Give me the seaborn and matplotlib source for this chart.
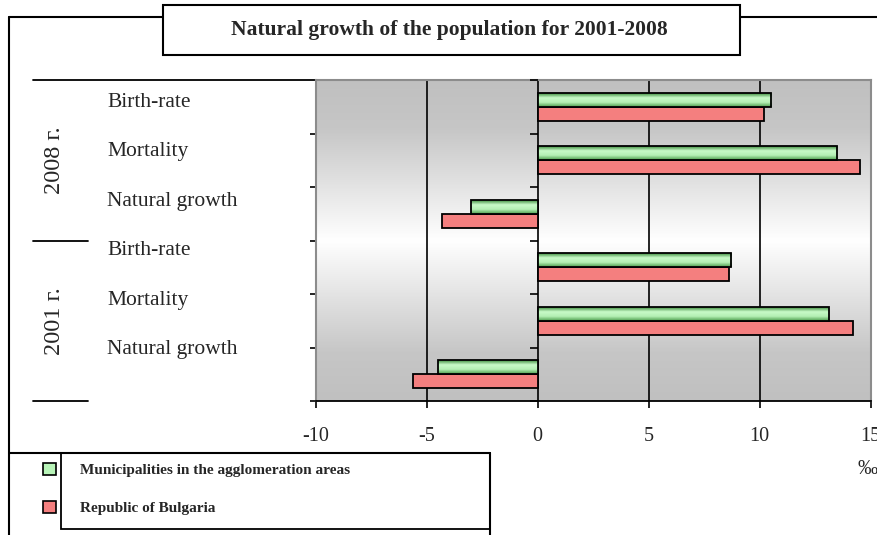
import matplotlib.pyplot as plt
import matplotlib.transforms as mtransforms
from matplotlib.colors import LinearSegmentedColormap, to_rgb
from matplotlib.patches import Rectangle
from matplotlib.lines import Line2D
import numpy as np
import pandas as pd
import seaborn as sns

# Data (per mille)
years = ['2008 г.', '2001 г.']
indicators = ['Birth-rate', 'Mortality', 'Natural growth']
series = ['Municipalities in the agglomeration areas', 'Republic of Bulgaria']
municipalities = [10.5, 13.5, -3.0, 8.7, 13.1, -4.5]
bulgaria = [10.2, 14.5, -4.3, 8.6, 14.2, -5.6]
x_ticks = [-10, -5, 0, 5, 10, 15]
title = 'Natural growth of the population for 2001-2008'
unit = '‰'

W, H = 877, 535


def fx(x):
    return x / W


def fy(y):
    return 1 - y / H


sns.set_style('white')
plt.rcParams['font.family'] = ['Liberation Serif', 'DejaVu Serif']

slots = [f'{y} {i}' for y in years for i in indicators]
df = pd.DataFrame({
    'slot': slots * 2,
    'value': municipalities + bulgaria,
    'series': [series[0]] * len(slots) + [series[1]] * len(slots),
})

fig = plt.figure(figsize=(8.77, 5.35), dpi=100)
ax_left, ax_right, ax_top, ax_bottom = 315.7, 870.7, 80, 401
ax = fig.add_axes([fx(ax_left), fy(ax_bottom), fx(ax_right) - fx(ax_left), fy(ax_top) - fy(ax_bottom)])


def ax_x(px):
    return (px - ax_left) / (ax_right - ax_left)


green = '#b8f4b8'
red = '#f47f7f'
sns.barplot(data=df, y='slot', x='value', hue='series', order=slots, hue_order=series,
            palette=[green, red], orient='h', width=0.52, edgecolor='black', linewidth=1.3,
            saturation=1, legend=False, ax=ax, zorder=3)

# grey-white-grey background of the plot area
bg = LinearSegmentedColormap.from_list('bg', [(0, '#c0c0c0'), (0.15, '#c6c6c6'), (0.5, '#ffffff'),
                                              (0.85, '#c6c6c6'), (1, '#c0c0c0')])
ax.imshow(np.linspace(0, 1, 256).reshape(-1, 1), cmap=bg, aspect='auto',
          extent=(0, 1, 0, 1), transform=ax.transAxes, zorder=0)

# shaded green bars
bar_cmap = LinearSegmentedColormap.from_list('bar', ['#3c8c3c', '#c8fac8', '#b4f0b4', '#4c9c4c'])
for p in list(ax.patches):
    if np.allclose(p.get_facecolor()[:3], to_rgb(green)):
        bb = p.get_bbox()
        im = ax.imshow(np.linspace(0, 1, 64).reshape(-1, 1), cmap=bar_cmap, aspect='auto',
                       extent=(min(bb.x0, bb.x1), max(bb.x0, bb.x1), max(bb.y0, bb.y1), min(bb.y0, bb.y1)),
                       zorder=3.5)
        im.set_clip_path(p)
        p.set_facecolor('none')
        p.set_zorder(4)

ax.set_xlim(x_ticks[0], x_ticks[-1])
ax.set_ylim(len(slots) - 0.5, -0.5)
ax.set_xlabel('')
ax.set_ylabel('')

for t in x_ticks[1:-1]:
    ax.axvline(t, color='black', lw=1.2, zorder=1)

for s in ['top', 'right', 'left']:
    ax.spines[s].set_color('#8c8c8c')
    ax.spines[s].set_linewidth(1.5)
ax.spines['bottom'].set_color('black')
ax.spines['bottom'].set_linewidth(1.3)

ax.set_xticks(x_ticks, labels=[str(t) for t in x_ticks])
ax.tick_params(axis='x', direction='out', length=5, width=1.2, color='black', pad=14, labelsize=14.5, bottom=True)

# category names sit a little tighter than the category slots (as in the source)
label_pos = np.linspace(-0.13, 4.49, len(slots))
ax.set_yticks(label_pos, labels=indicators * len(years))
ax.set_yticks([i + 0.5 for i in range(len(slots))], minor=True)
ax.tick_params(axis='y', which='major', length=0, pad=150, labelsize=15.5, left=True)
ax.tick_params(axis='y', which='minor', length=4, width=1.2, direction='out', color='black', left=True)
for lbl in ax.get_yticklabels():
    lbl.set_horizontalalignment('left')

# category axis through zero with its tick marks
ax.plot(np.zeros(len(slots) + 1), np.arange(len(slots) + 1) - 0.5, ls='none', marker=0, ms=6,
        mew=1.2, color='black', zorder=5, clip_on=False)

trans = mtransforms.blended_transform_factory(ax.transAxes, ax.transData)
for k, yr in enumerate(years):
    ax.text(ax_x(54), len(indicators) * k + 1, yr, rotation=90, ha='center', va='center',
            fontsize=17.5, transform=trans)
ax.plot([ax_x(33), 0], [-0.5, -0.5], transform=trans, color='black', lw=1.3, clip_on=False)
for k in range(len(years)):
    yb = len(indicators) * (k + 1) - 0.5
    ax.plot([ax_x(33), ax_x(88)], [yb, yb], transform=trans, color='black', lw=1.3, clip_on=False)

# frame, title box, legend box
fig.add_artist(Line2D([fx(9), fx(9)], [fy(17), fy(535)], color='black', lw=1.5))
fig.add_artist(Line2D([fx(9), fx(877)], [fy(17), fy(17)], color='black', lw=1.5))
fig.add_artist(Rectangle((fx(163), fy(55)), fx(740) - fx(163), fy(5) - fy(55), facecolor='white',
                         edgecolor='black', lw=1.5, transform=fig.transFigure, zorder=2.5))
fig.text(fx(449), fy(30), title, ha='center', va='center', fontsize=15.5, weight='bold', zorder=3)

fig.add_artist(Line2D([fx(9), fx(490)], [fy(453), fy(453)], color='black', lw=1.5))
fig.add_artist(Line2D([fx(490), fx(490)], [fy(453), fy(535)], color='black', lw=1.5))
fig.add_artist(Rectangle((fx(61), fy(529)), fx(490) - fx(61), fy(453) - fy(529), facecolor='none',
                         edgecolor='black', lw=1.3, transform=fig.transFigure))

handles = [Rectangle((0, 0), 1, 1, facecolor=green, edgecolor='black', lw=1.2),
           Rectangle((0, 0), 1, 1, facecolor=red, edgecolor='black', lw=1.2)]
leg = fig.legend(handles, series, loc='upper left', bbox_to_anchor=(fx(43), fy(463)), frameon=False,
                 prop={'size': 11, 'weight': 'bold'}, borderpad=0, borderaxespad=0,
                 handlelength=0.85, handleheight=0.8, handletextpad=1.55, labelspacing=1.55)

fig.text(fx(858), fy(470), unit, ha='left', va='center', fontsize=14.5)

fig.savefig('out.png', dpi=100)
